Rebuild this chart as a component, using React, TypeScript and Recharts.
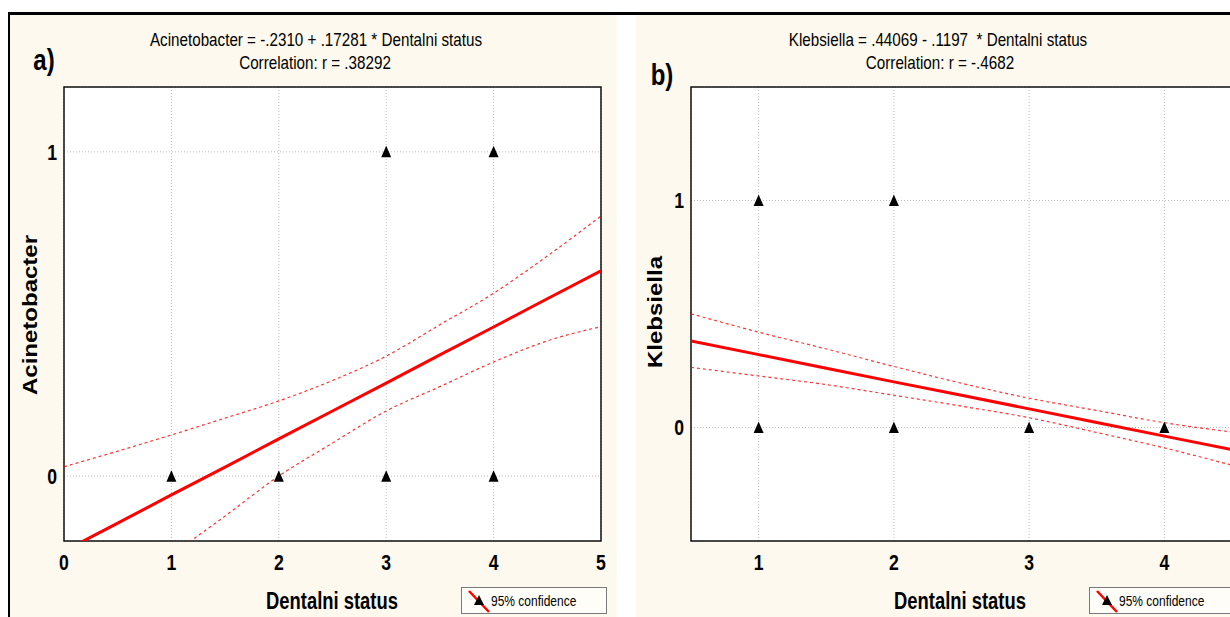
import {
    ComposedChart,
    Line,
    Scatter,
    XAxis,
    YAxis,
    CartesianGrid,
    ReferenceArea,
} from "recharts";

// panel a) Acinetobacter vs Dentalni status
const xTicksA = [0, 1, 2, 3, 4, 5];
const yTicksA = [0, 1];
const pointsAX = [1, 2, 3, 3, 4, 4];
const pointsAY = [0, 0, 0, 1, 0, 1];
const bandXA = [0, 0.5, 1, 1.5, 2, 2.5, 3, 3.5, 4, 4.5, 5];
const fitA = [-0.231, -0.145, -0.058, 0.028, 0.115, 0.201, 0.287, 0.374, 0.46, 0.547, 0.633];
const upperA = [0.029, 0.077, 0.127, 0.179, 0.232, 0.295, 0.37, 0.467, 0.564, 0.679, 0.802];
const lowerA = [-0.49, -0.367, -0.243, -0.123, 0.0, 0.102, 0.201, 0.276, 0.352, 0.417, 0.461];

// panel b) Klebsiella vs Dentalni status
const xTicksB = [1, 2, 3, 4];
const yTicksB = [0, 1];
const pointsBX = [1, 2, 1, 2, 3, 4];
const pointsBY = [1, 1, 0, 0, 0, 0];
const bandXB = [0.5, 1, 1.5, 2, 2.5, 3, 3.5, 4, 4.5];
const fitB = [0.381, 0.321, 0.261, 0.201, 0.142, 0.082, 0.022, -0.038, -0.098];
const upperB = [0.501, 0.42, 0.346, 0.269, 0.195, 0.129, 0.075, 0.021, -0.02];
const lowerB = [0.265, 0.227, 0.189, 0.142, 0.094, 0.043, -0.022, -0.09, -0.166];

const CREAM = "#FDF9EE";
const RED = "#FF0000";
const SQ = 0.8; // horizontal squeeze of the original picture
const FONT = '"Liberation Sans", Arial, sans-serif';

const rowsA = bandXA.map((x, i) => ({ x, fit: fitA[i], upper: upperA[i], lower: lowerA[i] }));
const ptsA = pointsAX.map((x, i) => ({ x, y: pointsAY[i] }));
const rowsB = bandXB.map((x, i) => ({ x, fit: fitB[i], upper: upperB[i], lower: lowerB[i] }));
const ptsB = pointsBX.map((x, i) => ({ x, y: pointsBY[i] }));

const Triangle = (props: any) => {
    const { cx, cy } = props;
    if (cx == null || cy == null) return null;
    return <polygon points={`${cx},${cy - 6} ${cx - 5},${cy + 5.5} ${cx + 5},${cy + 5.5}`} fill="#000" />;
};

const XTick = ({ x, y, payload }: any) => (
    <text transform={`translate(${x},${y}) scale(${SQ},1)`} textAnchor="middle" dy="0.71em"
        fontSize={22} fontWeight="bold" fill="#000" fontFamily={FONT}>
        {payload.value}
    </text>
);

const YTick = ({ x, y, payload }: any) => (
    <text transform={`translate(${x},${y}) scale(${SQ},1)`} textAnchor="end" dy="0.355em"
        fontSize={22} fontWeight="bold" fill="#000" fontFamily={FONT}>
        {payload.value}
    </text>
);

const Text = ({ x, y, size, bold, children, rotate }: any) => (
    <div
        style={{
            position: "absolute",
            left: x,
            top: y,
            transform: rotate
                ? `translate(-50%,-50%) scaleX(0.86) rotate(-90deg)`
                : `translate(-50%,-50%) scaleX(${SQ})`,
            whiteSpace: "nowrap",
            fontSize: size,
            fontWeight: bold ? "bold" : "normal",
            lineHeight: 1,
            color: "#000",
        }}
    >
        {children}
    </div>
);

const LegendBox = ({ x, y }: { x: number; y: number }) => (
    <div
        style={{
            position: "absolute",
            left: x,
            top: y,
            width: 146,
            height: 27,
            border: "1px solid #7a7a7a",
            background: "#FFFDF8",
            boxSizing: "border-box",
        }}
    >
        <svg width={26} height={25} style={{ position: "absolute", left: 5, top: 1 }}>
            <line x1={2} y1={2} x2={22} y2={23} stroke={RED} strokeWidth={2.5} />
            <polygon points="12,6 7,16 17,16" fill="#000" />
        </svg>
        <div
            style={{
                position: "absolute",
                left: 29,
                top: 4,
                fontSize: 15,
                transform: `scaleX(${SQ})`,
                transformOrigin: "left center",
                whiteSpace: "nowrap",
            }}
        >
            95% confidence
        </div>
    </div>
);

const Panel = ({ rows, pts, xDomain, yDomain, xTicks, yTicks, width, left, marginLeft, marginRight }: any) => (
    <div style={{ position: "absolute", left, top: 0 }}>
        <ComposedChart
            width={width}
            height={617}
            data={rows}
            margin={{ top: 87, right: marginRight, bottom: 46, left: marginLeft }}
        >
            <CartesianGrid stroke="#bdbdbd" strokeDasharray="1 2" fill="#fff" />
            <XAxis
                dataKey="x"
                type="number"
                domain={xDomain}
                ticks={xTicks}
                allowDataOverflow
                axisLine={false}
                tickLine={false}
                tickSize={0}
                tickMargin={13}
                height={30}
                tick={<XTick />}
            />
            <YAxis
                type="number"
                domain={yDomain}
                ticks={yTicks}
                allowDataOverflow
                axisLine={false}
                tickLine={false}
                tickSize={0}
                tickMargin={7}
                width={30}
                tick={<YTick />}
            />
            <ReferenceArea
                x1={xDomain[0]}
                x2={xDomain[1]}
                y1={yDomain[0]}
                y2={yDomain[1]}
                fill="none"
                stroke="#111"
                strokeWidth={1.5}
            />
            <Line dataKey="upper" type="monotone" stroke={RED} strokeWidth={1.2} strokeDasharray="3 3"
                strokeOpacity={0.8} dot={false} isAnimationActive={false} />
            <Line dataKey="lower" type="monotone" stroke={RED} strokeWidth={1.2} strokeDasharray="3 3"
                strokeOpacity={0.8} dot={false} isAnimationActive={false} />
            <Line dataKey="fit" type="linear" stroke={RED} strokeWidth={3} dot={false} isAnimationActive={false} />
            <Scatter data={pts} dataKey="y" shape={<Triangle />} isAnimationActive={false} />
        </ComposedChart>
    </div>
);

export default function App() {
    return (
        <div
            style={{
                position: "absolute",
                left: 0,
                top: 0,
                width: 1230,
                height: 617,
                overflow: "hidden",
                background: "#fff",
                fontFamily: FONT,
            }}
        >
            {/* panel backgrounds and frame */}
            <div style={{ position: "absolute", left: 8, top: 12, width: 607, height: 605, background: CREAM, borderLeft: "2px solid #000" }} />
            <div style={{ position: "absolute", left: 636, top: 12, width: 594, height: 605, background: CREAM }} />
            <div style={{ position: "absolute", left: 8, top: 12, width: 1222, height: 3, background: "#000" }} />

            <Panel rows={rowsA} pts={ptsA} xDomain={[0, 5]} yDomain={[-0.2, 1.2]} xTicks={xTicksA} yTicks={yTicksA}
                width={615} left={0} marginLeft={34} marginRight={14} />
            <Panel rows={rowsB} pts={ptsB} xDomain={[0.5, 4.5]} yDomain={[-0.5, 1.5]} xTicks={xTicksB} yTicks={yTicksB}
                width={596} left={636} marginLeft={25} marginRight={0} />

            <Text x={316} y={39} size={19}>Acinetobacter = -.2310 + .17281 * Dentalni status</Text>
            <Text x={315} y={62} size={19}>Correlation: r = .38292</Text>
            <Text x={44} y={60} size={30} bold>a)</Text>
            <Text x={30} y={315} size={24} bold rotate>Acinetobacter</Text>
            <Text x={332} y={601} size={23} bold>Dentalni status</Text>
            <LegendBox x={461} y={587} />

            <Text x={938} y={39} size={19}>Klebsiella = .44069 - .1197&nbsp;&nbsp;* Dentalni status</Text>
            <Text x={940} y={62} size={19}>Correlation: r = -.4682</Text>
            <Text x={662} y={75} size={30} bold>b)</Text>
            <Text x={655} y={312} size={24} bold rotate>Klebsiella</Text>
            <Text x={960} y={601} size={23} bold>Dentalni status</Text>
            <LegendBox x={1089} y={587} />
        </div>
    );
}
